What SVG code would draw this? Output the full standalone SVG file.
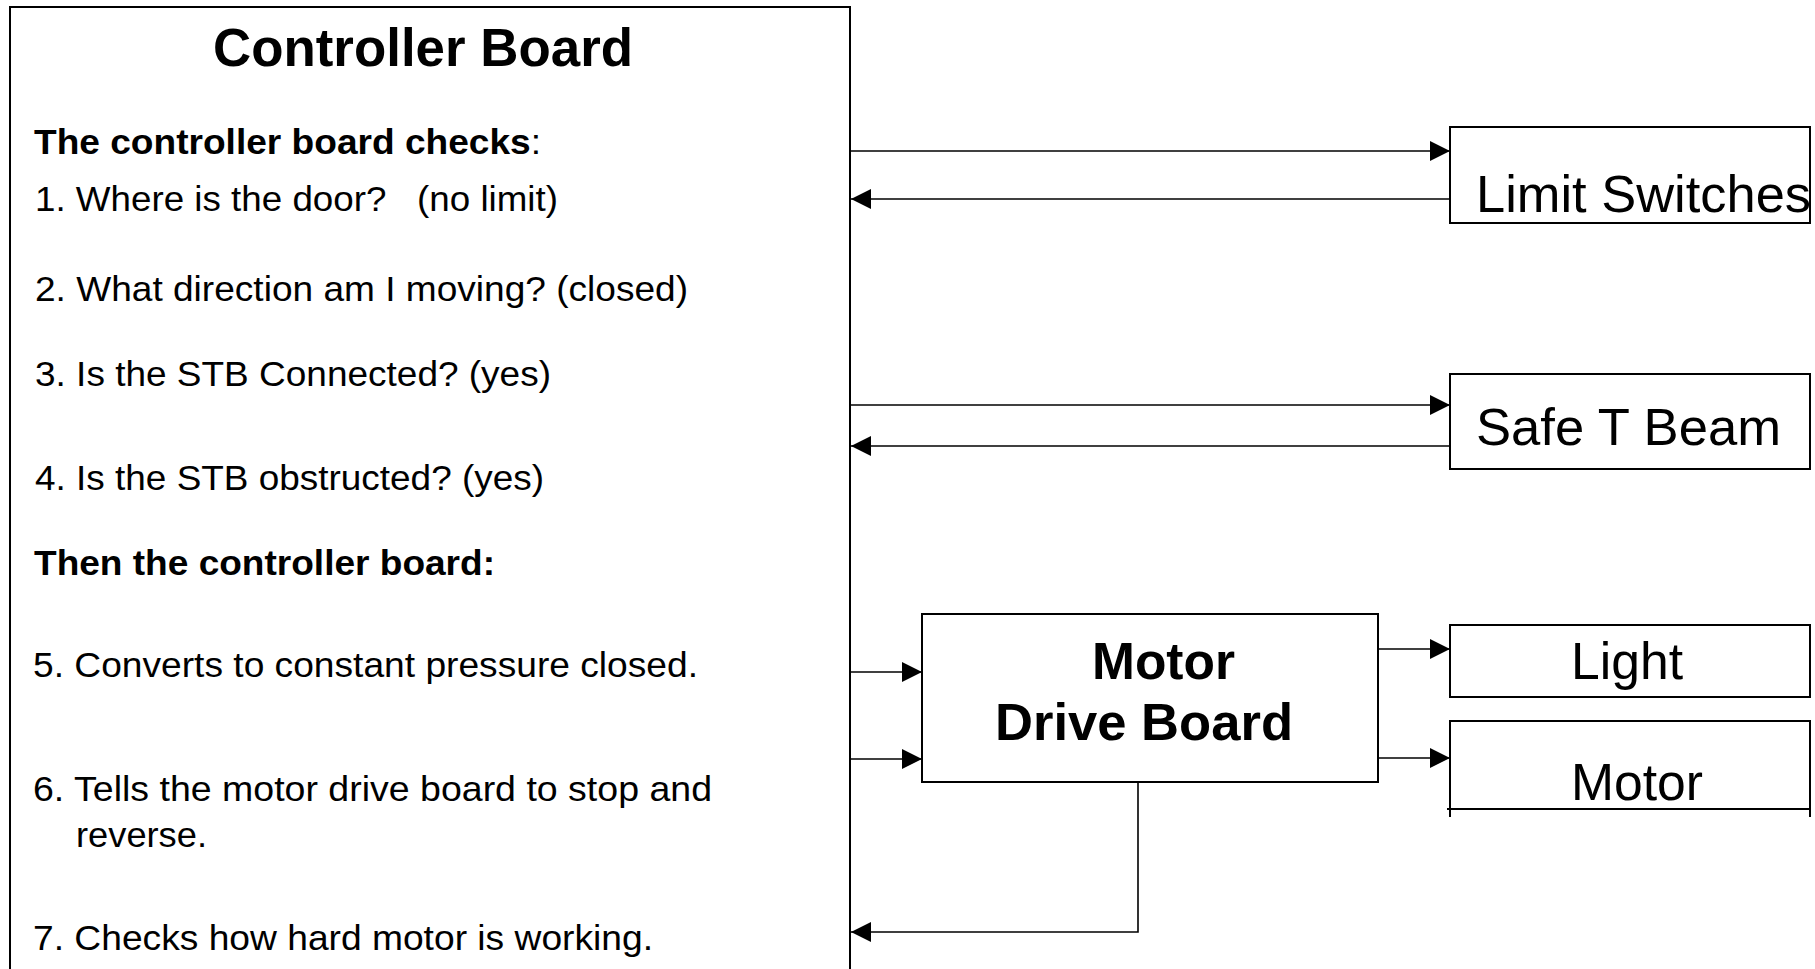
<svg xmlns="http://www.w3.org/2000/svg" width="1815" height="969" viewBox="0 0 1815 969">
<style>
  .box { fill: #fff; stroke: #000; stroke-width: 2; }
  .edge { fill: none; stroke: #000; stroke-width: 1.6; }
  .t { font-family: "Liberation Sans", Arial, sans-serif; fill: #000; }
  .body { font-size: 35px; }
  .b { font-weight: bold; }
  .lbl { font-size: 52px; }
</style>
<defs>
  <marker id="arr" markerUnits="userSpaceOnUse" markerWidth="20" markerHeight="20" viewBox="0 0 20 20" refX="20" refY="10" orient="auto">
    <path d="M0,0 L20,10 L0,20 z" fill="#000"/>
  </marker>
</defs>
<rect x="0" y="0" width="1815" height="969" fill="#fff"/>

<g id="controller-board">
  <path class="box" d="M10,990 L10,7 L850,7 L850,990"/>
  <text class="t b" x="213" y="66" font-size="53" textLength="420" lengthAdjust="spacingAndGlyphs">Controller Board</text>
  <text class="t body" x="34" y="154" textLength="507" lengthAdjust="spacingAndGlyphs"><tspan class="b">The controller board checks</tspan>:</text>
  <text class="t body" x="35" y="211" textLength="523" lengthAdjust="spacingAndGlyphs">1. Where is the door?&#160;&#160; (no limit)</text>
  <text class="t body" x="35" y="301" textLength="653" lengthAdjust="spacingAndGlyphs">2. What direction am I moving? (closed)</text>
  <text class="t body" x="35" y="386" textLength="516" lengthAdjust="spacingAndGlyphs">3. Is the STB Connected? (yes)</text>
  <text class="t body" x="35" y="490" textLength="509" lengthAdjust="spacingAndGlyphs">4. Is the STB obstructed? (yes)</text>
  <text class="t body b" x="34" y="575" textLength="461" lengthAdjust="spacingAndGlyphs">Then the controller board:</text>
  <text class="t body" x="33" y="677" textLength="665" lengthAdjust="spacingAndGlyphs">5. Converts to constant pressure closed.</text>
  <text class="t body" x="33" y="801" textLength="679" lengthAdjust="spacingAndGlyphs">6. Tells the motor drive board to stop and</text>
  <text class="t body" x="76" y="847" textLength="131" lengthAdjust="spacingAndGlyphs">reverse.</text>
  <text class="t body" x="33" y="950" textLength="620" lengthAdjust="spacingAndGlyphs">7. Checks how hard motor is working.</text>
</g>

<g id="limit-switches">
  <rect class="box" x="1450" y="127" width="360" height="96"/>
  <text class="t lbl" x="1476" y="212" textLength="335" lengthAdjust="spacingAndGlyphs">Limit Switches</text>
</g>

<g id="safe-t-beam">
  <rect class="box" x="1450" y="374" width="360" height="95"/>
  <text class="t lbl" x="1476" y="445" textLength="305" lengthAdjust="spacingAndGlyphs">Safe T Beam</text>
</g>

<g id="motor-drive-board">
  <rect class="box" x="922" y="614" width="456" height="168"/>
  <text class="t lbl b" x="1092" y="679" textLength="143" lengthAdjust="spacingAndGlyphs">Motor</text>
  <text class="t lbl b" x="995" y="740" textLength="298" lengthAdjust="spacingAndGlyphs">Drive Board</text>
</g>

<g id="light">
  <rect class="box" x="1450" y="625" width="360" height="72"/>
  <text class="t lbl" x="1571" y="679" textLength="112" lengthAdjust="spacingAndGlyphs">Light</text>
</g>

<g id="motor">
  <path class="box" d="M1450,817 L1450,721 L1810,721 L1810,817"/>
  <line x1="1447" y1="809" x2="1810" y2="809" stroke="#000" stroke-width="2"/>
  <text class="t lbl" x="1571" y="800" textLength="132" lengthAdjust="spacingAndGlyphs">Motor</text>
</g>

<g id="connectors">
  <line class="edge" x1="851" y1="151" x2="1450" y2="151" marker-end="url(#arr)"/>
  <line class="edge" x1="1450" y1="199" x2="851" y2="199" marker-end="url(#arr)"/>
  <line class="edge" x1="851" y1="405" x2="1450" y2="405" marker-end="url(#arr)"/>
  <line class="edge" x1="1450" y1="446" x2="851" y2="446" marker-end="url(#arr)"/>
  <line class="edge" x1="851" y1="672" x2="922" y2="672" marker-end="url(#arr)"/>
  <line class="edge" x1="851" y1="759" x2="922" y2="759" marker-end="url(#arr)"/>
  <line class="edge" x1="1378" y1="649" x2="1450" y2="649" marker-end="url(#arr)"/>
  <line class="edge" x1="1378" y1="758" x2="1450" y2="758" marker-end="url(#arr)"/>
  <polyline class="edge" points="1138,782 1138,932 851,932" marker-end="url(#arr)"/>
</g>
</svg>
